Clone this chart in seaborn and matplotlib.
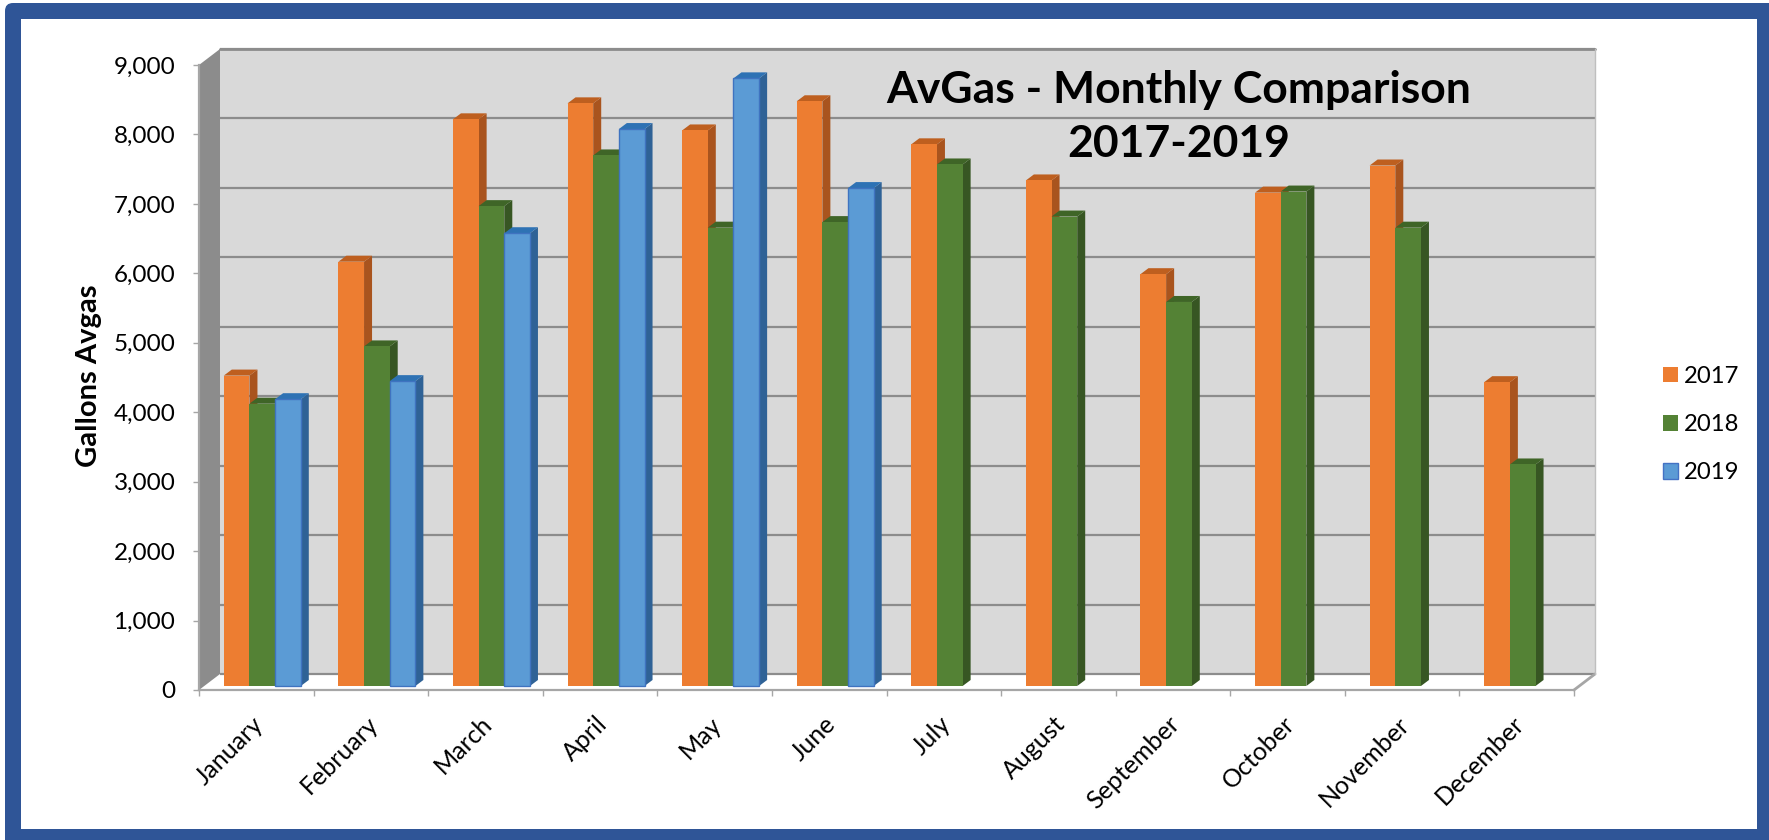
import numpy as np
import pandas as pd
import matplotlib
matplotlib.use("Agg")
import matplotlib.pyplot as plt
from matplotlib.patches import Polygon, FancyBboxPatch, Patch, Rectangle
from matplotlib.transforms import Affine2D
import seaborn as sns

months = ["January", "February", "March", "April", "May", "June", "July",
          "August", "September", "October", "November", "December"]
years = ["2017", "2018", "2019"]
v2017 = [4470, 6110, 8160, 8390, 8000, 8420, 7800, 7280, 5930, 7105, 7495, 4375]
v2018 = [4065, 4890, 6910, 7640, 6600, 6680, 7510, 6760, 5530, 7120, 6600, 3190]
v2019 = [4130, 4390, 6520, 8020, 8750, 7170, np.nan, np.nan, np.nan, np.nan, np.nan, np.nan]
yticks = [0, 1000, 2000, 3000, 4000, 5000, 6000, 7000, 8000, 9000]

front = ["#ED7D31", "#548235", "#5B9BD5"]
side = ["#A9541E", "#375623", "#2F6296"]
top = ["#BE5F1F", "#3F6527", "#2E72B4"]
GRID = "#8C8C8C"

W, H = 1769, 840
sns.set_theme(style="white")
plt.rcParams["font.family"] = ["Lato", "DejaVu Sans"]

fig = plt.figure(figsize=(W / 100, H / 100), dpi=100, facecolor="white")

# page frame, in pixel coordinates
bg = fig.add_axes([0, 0, 1, 1], zorder=0)
bg.set_xlim(0, W)
bg.set_ylim(H, 0)
bg.axis("off")
bg.add_patch(FancyBboxPatch((13, 11), W + 40, H + 40, boxstyle="round,pad=8,rounding_size=8",
                            fc="#2F5597", ec="none"))
bg.add_patch(Rectangle((21, 19), 1736, 810, fc="white", ec="none"))

ax = fig.add_axes([199 / W, 1 - 690 / H, 1375 / W, 625 / H], zorder=1)
ax.patch.set_alpha(0)

df = pd.DataFrame({"month": months * 3,
                   "year": np.repeat(years, 12),
                   "gallons": v2017 + v2018 + v2019})
sns.barplot(data=df, x="month", y="gallons", hue="year", order=months, hue_order=years,
            palette=front, width=0.672, gap=0, dodge=True, saturation=1,
            legend=False, ax=ax, errorbar=None, zorder=3)

ax.set_xlim(-0.5, 11.5)
ax.set_ylim(0, 9000)

# pixel -> data unit conversion for the pseudo-3D offsets
px = 12 / 1375
py = 9000 / 625


def poly(points, **kw):
    ax.add_patch(Polygon(points, closed=True, clip_on=False, lw=0, **kw))


# walls
bx, by = 21 * px, 16 * py
poly([(-0.5, 0), (-0.5, 9000), (-0.5 + bx, 9000 + by), (-0.5 + bx, by)], fc="#8C8C8C", zorder=1)
poly([(-0.5 + bx, by), (-0.5 + bx, 9000 + by), (11.5 + bx, 9000 + by), (11.5 + bx, by)],
     fc="#D9D9D9", zorder=0.5)
for v in yticks:
    ax.plot([-0.5 + bx, 11.5 + bx], [v + by, v + by], color=GRID, lw=1.6, clip_on=False,
            zorder=0.8, solid_capstyle="butt")
ax.plot([11.5, 11.5 + bx], [0, by], color="#A6A6A6", lw=2, clip_on=False, zorder=0.9)
ax.plot([-0.5 + bx, 11.5 + bx], [9000 + by] * 2, color=GRID, lw=2, clip_on=False, zorder=0.9)
ax.plot([11.5 + bx] * 2, [by, 9000 + by], color="#BFBFBF", lw=1, clip_on=False, zorder=0.9)

# bars: move the front faces onto their plane, add the side and top faces
ox, oy = 6 * px, 4 * py
dx, dy = 8 * px, 6 * py
for k, cont in enumerate(ax.containers):
    for b in cont:
        h = b.get_height()
        if not np.isfinite(h) or h <= 0:
            b.set_visible(False)
            continue
        b.set_x(b.get_x() + ox)
        b.set_y(oy)
        b.set_zorder(3 + k + 0.5)
        b.set_clip_on(False)
        if k == 2:
            b.set_edgecolor("#3F73C0")
            b.set_linewidth(1)
        else:
            b.set_linewidth(0)
        x0, x1 = b.get_x(), b.get_x() + b.get_width()
        y0, y1 = oy, oy + h
        poly([(x1, y0), (x1 + dx, y0 + dy), (x1 + dx, y1 + dy), (x1, y1)], fc=side[k], zorder=3 + k)
        poly([(x0, y1), (x0 + dx, y1 + dy), (x1 + dx, y1 + dy), (x1, y1)], fc=top[k], zorder=3 + k)

# axes
for s in ["top", "right"]:
    ax.spines[s].set_visible(False)
for s in ["left", "bottom"]:
    ax.spines[s].set_color("#A6A6A6")
    ax.spines[s].set_linewidth(1.6)
ax.set_yticks(yticks)
ax.set_yticklabels([f"{v:,}" for v in yticks], fontsize=17.5, color="black")
ax.tick_params(axis="y", left=True, length=4.5, width=1, color="#A6A6A6", pad=12.5)
ax.set_xticks(range(12))
ax.set_xticks(np.arange(-0.5, 12, 1), minor=True)
ax.tick_params(axis="x", which="minor", bottom=True, length=4.5, width=1, color="#A6A6A6")
ax.tick_params(axis="x", which="major", bottom=False, pad=10)
ax.set_xticklabels(months, rotation=45, ha="right", rotation_mode="anchor", fontsize=18, color="black")
for lab in ax.get_xticklabels():
    lab.set_transform(lab.get_transform() + Affine2D().translate(-5, 0))
ax.set_xlabel("")
ax.set_ylabel("Gallons Avgas", fontsize=21, fontweight="bold", color="black", va="center")
ax.yaxis.set_label_coords((89 - 199) / 1375, (690 - 376) / 625)

fig.text(1179 / W, 1 - 117 / H, "AvGas - Monthly Comparison\n2017-2019", ha="center", va="center",
         fontsize=32, fontweight="bold", color="black", linespacing=1.42, zorder=10)

handles = [Patch(fc=front[0], ec="none"), Patch(fc=front[1], ec="none"),
           Patch(fc=front[2], ec="#4472C4", lw=1)]
fig.legend(handles, years, loc="upper left", bbox_to_anchor=(1663 / W, 1 - 366 / H), frameon=False,
           fontsize=17.2, handlelength=0.62, handleheight=0.62, handletextpad=0.26, labelspacing=1.14,
           borderpad=0, borderaxespad=0, labelcolor="black")

fig.savefig("out.png", dpi=100)
